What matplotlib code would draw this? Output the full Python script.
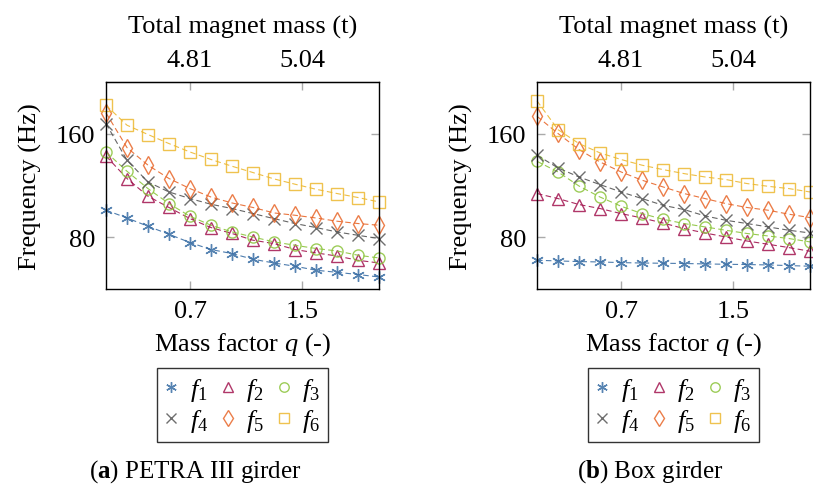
import matplotlib
matplotlib.use("Agg")
from matplotlib import pyplot as plt

plt.rcParams["font.family"] = ["Liberation Serif", "DejaVu Serif"]
plt.rcParams["mathtext.fontset"] = "custom"
plt.rcParams["mathtext.rm"] = "Liberation Serif"
plt.rcParams["mathtext.it"] = "Liberation Serif:italic"
plt.rcParams["mathtext.bf"] = "Liberation Serif:bold"

# mass factor q
q = [0.1, 0.25, 0.4, 0.55, 0.7, 0.85, 1.0, 1.15, 1.3, 1.45, 1.6, 1.75, 1.9, 2.05]

# (a) PETRA III girder
petra = {
    "f1": [100.9, 94.9, 88.5, 82.3, 75.9, 70.5, 67.4, 63.0, 60.1, 57.6, 54.5, 52.9, 51.2, 49.3],
    "f2": [142.8, 125.4, 111.7, 103.0, 94.4, 87.5, 82.9, 77.7, 75.1, 70.5, 67.9, 65.5, 62.2, 60.1],
    "f3": [145.9, 131.0, 117.6, 106.0, 96.2, 89.3, 84.1, 80.2, 76.4, 73.8, 71.3, 69.4, 66.1, 64.0],
    "f4": [167.9, 139.5, 122.7, 115.0, 109.9, 105.5, 102.2, 98.3, 94.4, 90.6, 87.5, 84.1, 81.5, 79.0],
    "f5": [176.1, 149.3, 135.7, 125.4, 117.6, 111.1, 106.5, 103.0, 98.8, 97.0, 94.9, 92.4, 90.6, 89.3],
    "f6": [182.0, 166.6, 159.4, 152.4, 145.9, 140.1, 134.9, 130.0, 125.1, 121.0, 117.1, 113.8, 110.7, 107.3],
}

# (b) Box girder
box = {
    "f1": [62.2, 61.7, 61.2, 60.9, 60.4, 60.1, 59.9, 59.7, 59.4, 59.1, 58.9, 58.6, 58.1, 57.6],
    "f2": [113.8, 109.9, 105.3, 102.2, 98.3, 94.9, 91.0, 86.7, 83.3, 80.2, 77.1, 74.6, 72.0, 69.2],
    "f3": [138.7, 130.5, 119.6, 111.1, 104.0, 98.3, 93.9, 90.6, 88.0, 85.4, 82.9, 81.0, 79.0, 76.4],
    "f4": [143.4, 133.6, 126.6, 120.7, 115.0, 109.9, 104.7, 101.4, 96.5, 93.1, 90.6, 88.0, 85.4, 83.3],
    "f5": [173.5, 160.2, 147.8, 138.2, 130.5, 124.1, 118.9, 113.8, 109.9, 106.0, 103.0, 100.9, 97.8, 95.2],
    "f6": [185.4, 163.2, 152.4, 145.2, 140.1, 135.7, 132.3, 129.2, 126.6, 124.6, 121.5, 119.4, 117.6, 115.0],
}

mass_ticks = [4.81, 5.04]
q_ticks = [0.7, 1.5]
freq_ticks = [80, 160]

styles = {
    "f1": dict(color="#3a6ea5", marker=(6, 2, 0), ms=9),
    "f2": dict(color="#a2144f", marker="^", ms=8),
    "f3": dict(color="#8cc43c", marker="o", ms=8),
    "f4": dict(color="#555555", marker="x", ms=8),
    "f5": dict(color="#e8672a", marker="d", ms=9),
    "f6": dict(color="#edb830", marker="s", ms=8),
}
# legend is filled column by column -> reorder to get rows f1 f2 f3 / f4 f5 f6
leg_order = ["f1", "f4", "f2", "f5", "f3", "f6"]


def q2m(x):
    return 4.60875 + 0.2875 * x


def m2q(m):
    return (m - 4.60875) / 0.2875


fs = 19
fig = plt.figure(figsize=(8.13, 4.89), dpi=100)

for left, data in [(106, petra), (537, box)]:
    ax = fig.add_axes([left / 813, (489 - 290) / 489, 273 / 813, 207 / 489])
    handles = {}
    for name, vals in data.items():
        st = styles[name]
        ax.plot(q, vals, color=st["color"], lw=0.8, ls=(0, (5, 3)), alpha=0.9,
                clip_on=False)
        h, = ax.plot(q, vals, ls="none", marker=st["marker"], ms=st["ms"],
                     mfc="none", mec=st["color"], mew=1.0, alpha=0.85,
                     clip_on=False, label=r"$f_{%s}$" % name[1])
        handles[name] = h
    ax.set_xlim(0.1, 2.05)
    ax.set_ylim(40, 200)
    ax.set_xticks(q_ticks)
    ax.set_xticklabels(["0.7", "1.5"])
    ax.set_yticks(freq_ticks)
    ax.tick_params(direction="in", length=6, width=1, color="#aaaaaa",
                   labelsize=fs, top=False, right=True, pad=8)
    for s in ax.spines.values():
        s.set_linewidth(1.0)
    ax.set_xlabel(r"Mass factor $q$ (-)", fontsize=fs, labelpad=6)
    ax.set_ylabel("Frequency (Hz)", fontsize=fs, labelpad=10)

    top = ax.secondary_xaxis("top", functions=(q2m, m2q))
    top.set_xticks(mass_ticks)
    top.set_xticklabels(["4.81", "5.04"])
    top.tick_params(direction="in", length=6, width=1, color="#aaaaaa",
                    labelsize=fs, pad=8)
    top.set_xlabel("Total magnet mass (t)", fontsize=fs, labelpad=12)

    cx = (left + 136.5) / 813
    leg = fig.legend(handles=[handles[n] for n in leg_order], ncol=3,
                     loc="center", bbox_to_anchor=(cx, 1 - 406 / 489),
                     fontsize=fs, frameon=True, fancybox=False,
                     edgecolor="black", markerscale=0.85,
                     handlelength=0.5, handletextpad=0.45, columnspacing=0.5,
                     labelspacing=0.15, borderpad=0.3, borderaxespad=0)
    leg.get_frame().set_linewidth(1.0)

fig.text(195 / 813, 1 - 472 / 489, r"($\mathbf{a}$) PETRA III girder",
         fontsize=18, ha="center", va="center")
fig.text(650 / 813, 1 - 472 / 489, r"($\mathbf{b}$) Box girder",
         fontsize=18, ha="center", va="center")

fig.savefig("out.png", dpi=100)
